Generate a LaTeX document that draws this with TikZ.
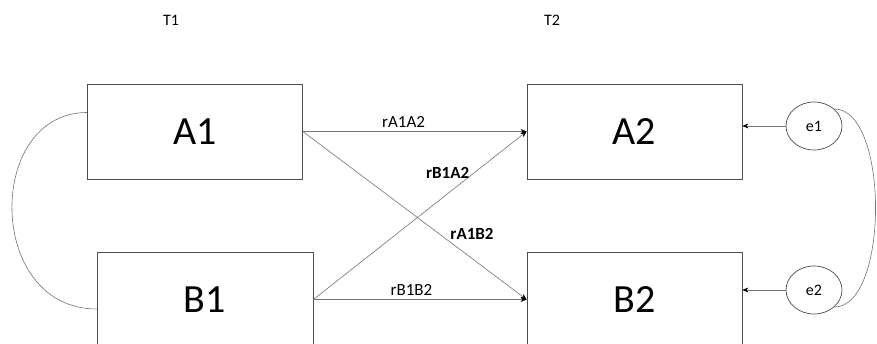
\documentclass[tikz,border=0pt]{standalone}
\usepackage{fontspec}
\setmainfont{Carlito}
\usetikzlibrary{shapes.geometric,arrows.meta,calc,positioning}
\definecolor{boxgray}{rgb}{0.30,0.30,0.30}
\definecolor{linegray}{rgb}{0.45,0.45,0.45}
\tikzset{
  varbox/.style={draw=boxgray, line width=0.8pt, minimum width=215pt, minimum height=95pt, font=\fontsize{40}{42}\selectfont},
  errnode/.style={draw=boxgray, line width=0.7pt, ellipse, minimum width=56pt, minimum height=48pt, font=\fontsize{16}{18}\selectfont},
  path/.style={draw=linegray, line width=0.6pt, -{Stealth[length=6pt,width=5pt,black]}},
  covar/.style={draw=linegray, line width=0.6pt},
  plab/.style={font=\fontsize{17}{19}\selectfont},
  blab/.style={font=\fontsize{17}{19}\selectfont\bfseries}
}
\begin{document}
\begin{tikzpicture}[x=1pt,y=-1pt]
        \useasboundingbox (0,0) rectangle (877,344);
        % time labels
        \node[font=\fontsize{16}{18}\selectfont] (t1) at (171,20) {T1};
        \node[font=\fontsize{16}{18}\selectfont] (t2) at (552,20) {T2};
        % variables
        \node[varbox] (A1) at (195,131.5) {A1};
        \node[varbox, minimum width=216pt] (B1) at (205,299.5) {B1};
        \node[varbox] (A2) at (634.5,131.5) {A2};
        \node[varbox] (B2) at (634.5,299.5) {B2};
        \node[errnode] (e1) at (814,126) {e1};
        \node[errnode] (e2) at (814,290) {e2};
        % paths
        \draw[path] (A1.east) -- node[plab, above=0pt, pos=0.45]{rA1A2} (A2.west);
        \draw[path] (B1.east) -- node[plab, above=0pt, pos=0.46]{rB1B2} (B2.west);
        \draw[path] (B1.east) -- node[blab, above=12pt, pos=0.63]{rB1A2} (A2.west);
        \draw[path] (A1.east) -- node[blab, above=15pt, pos=0.756]{rA1B2} (B2.west);
        \draw[path] (e1.west) -- (e1.west -| A2.east);
        \draw[path] (e2.west) -- (e2.west -| B2.east);
        % covariances
        \draw[covar] (A1.170) .. controls ($(A1.170)+(-102,0)$) and ($(B1.185)+(-111,0)$) .. (B1.185);
        \draw[covar] (e1.40) .. controls ($(e1.40)+(55,0)$) and ($(e2.-40)+(55,0)$) .. (e2.-40);
    \end{tikzpicture}
\end{document}
